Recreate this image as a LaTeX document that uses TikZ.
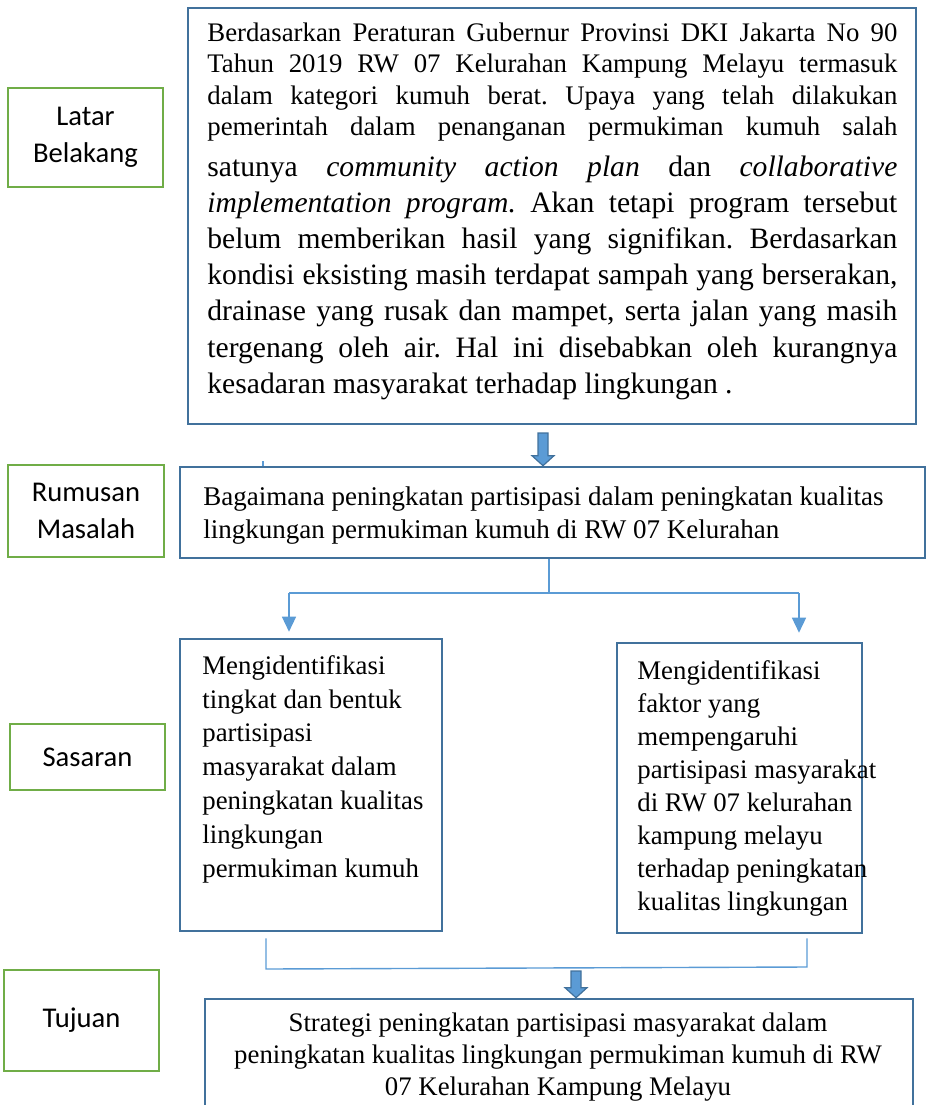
\documentclass[tikz,border=0pt]{standalone}
\usepackage{fontspec}
\setmainfont{Liberation Serif}[ItalicFont=Liberation Serif Italic, BoldFont=Liberation Serif Bold]
\newfontfamily\labelfont{Carlito}
\usetikzlibrary{arrows.meta,calc,positioning}
\frenchspacing

\definecolor{boxblue}{RGB}{65,113,156}
\definecolor{linkblue}{RGB}{91,155,213}
\definecolor{labelgreen}{RGB}{112,173,71}

\tikzset{
  labelbox/.style={draw=labelgreen, line width=1.3pt, minimum width=77.5pt, inner sep=0pt, align=center, font=\labelfont\fontsize{14.3}{18.5}\selectfont},
  bluebox/.style={draw=boxblue, line width=1.3pt, inner sep=0pt},
  boxtext/.style={inner sep=0pt, anchor=north west, align=left},
  thinlink/.style={draw=linkblue, line width=0.7pt},
  linkarrow/.style={thinlink, -{Triangle[width=7pt,length=7.5pt]}, color=linkblue},
  fatarrow/.style={draw=boxblue, fill=linkblue, line width=0.6pt},
}

\newcommand\blockarrow[2]{%
  \draw[fatarrow] let \p1=(#1), \p2=(#2) in
    (\x1-2.5pt,\y1) -- (\x1+2.5pt,\y1) -- (\x1+2.5pt,\y2+5pt) -- (\x1+5.5pt,\y2+5pt)
    -- (\x2,\y2) -- (\x1-5.5pt,\y2+5pt) -- (\x1-2.5pt,\y2+5pt) -- cycle;}

\begin{document}
\begin{tikzpicture}[x=0.5pt, y=-0.5pt]
\useasboundingbox (0,0) rectangle (926,1105);

\node[labelbox, minimum height=49.5pt] (latar) at (85.5,137.5) {Latar\\Belakang};
\node[labelbox, minimum width=78pt, minimum height=46pt] (rumusan) at (86,511) {Rumusan\\Masalah};
\node[labelbox, minimum height=33pt] (sasaran) at (87.5,757) {Sasaran};
\node[labelbox, minimum height=50.5pt] (tujuan) at (81.5,1020.5) {Tujuan};

\node[bluebox, minimum width=364pt, minimum height=208pt] (latarbox) at (552,216) {};
\node[boxtext, text width=345pt, align=justify] (latartext) at (207,22) {%
{\fontsize{13.4}{15.8}\selectfont\parfillskip=0pt
Berdasarkan Peraturan Gubernur Provinsi DKI Jakarta No 90\linebreak
Tahun 2019 RW 07 Kelurahan Kampung Melayu termasuk\linebreak
dalam kategori kumuh berat. Upaya yang telah dilakukan\linebreak
pemerintah dalam penanganan permukiman kumuh salah\par}\vspace{2pt}%
{\fontsize{14.8}{18.1}\selectfont
satunya \emph{community action plan} dan \emph{collaborative}\linebreak
\emph{implementation program.} Akan tetapi program tersebut\linebreak
belum memberikan hasil yang signifikan. Berdasarkan\linebreak
kondisi eksisting masih terdapat sampah yang berserakan,\linebreak
drainase yang rusak dan mampet, serta jalan yang masih\linebreak
tergenang oleh air. Hal ini disebabkan oleh kurangnya\linebreak
kesadaran masyarakat terhadap lingkungan .\par}};

\node[bluebox, minimum width=372.5pt, minimum height=45.5pt] (rumusanbox) at (552.5,512.5) {};
\node[boxtext, font=\fontsize{13.5}{16.5}\selectfont] (rumusantext) at (203,486)
  {Bagaimana peningkatan partisipasi dalam peningkatan kualitas\\
   lingkungan permukiman kumuh di RW 07 Kelurahan};

\node[bluebox, minimum width=131pt, minimum height=146pt] (sasaranA) at (311,785) {};
\node[boxtext, font=\fontsize{13.4}{16.9}\selectfont] (sasaranAtext) at (202,655)
  {Mengidentifikasi\\ tingkat dan bentuk\\ partisipasi\\ masyarakat dalam\\
   peningkatan kualitas\\ lingkungan\\ permukiman kumuh};

\node[bluebox, minimum width=122.5pt, minimum height=145pt] (sasaranB) at (739.5,788) {};
\node[boxtext, font=\fontsize{13.4}{16.5}\selectfont] (sasaranBtext) at (637,660)
  {Mengidentifikasi\\ faktor yang\\ mempengaruhi\\ partisipasi masyarakat\\
   di RW 07 kelurahan\\ kampung melayu\\ terhadap peningkatan\\ kualitas lingkungan};

\node[bluebox, minimum width=354pt, minimum height=65.5pt] (tujuanbox) at (559,1064.5) {};
\node[inner sep=0pt, anchor=north, align=center, font=\fontsize{13.4}{16}\selectfont] (tujuantext) at (558,1012)
  {Strategi peningkatan partisipasi masyarakat dalam\\
   peningkatan kualitas lingkungan permukiman kumuh di RW\\
   07 Kelurahan Kampung Melayu};

\coordinate (a1) at (543,433);
\blockarrow{a1}{a1 |- rumusanbox.north}
\coordinate (tick) at (263,461);
\draw[thinlink] (tick) -- (tick |- rumusanbox.north);

\coordinate (split) at (549,593);
\coordinate (splitL) at (289,593);
\coordinate (splitR) at (799,593);
\draw[thinlink] ($(rumusanbox.south)+(-3.5,0)$) -- (split);
\draw[thinlink] (splitL) -- (splitR);
\draw[linkarrow] (splitL) -- ($(splitL |- sasaranA.north)+(0,-6)$);
\draw[linkarrow] (splitR) -- ($(splitR |- sasaranB.north)+(0,-9)$);

\coordinate (joinL) at (266,969);
\coordinate (joinR) at (807,967);
\draw[thinlink] ($(joinL |- sasaranA.south)+(0,6)$) -- (joinL) -- (joinR) -- ($(joinR |- sasaranB.south)+(0,4)$);
\coordinate (a2) at (576,971);
\blockarrow{a2}{a2 |- tujuanbox.north}
\end{tikzpicture}
\end{document}
